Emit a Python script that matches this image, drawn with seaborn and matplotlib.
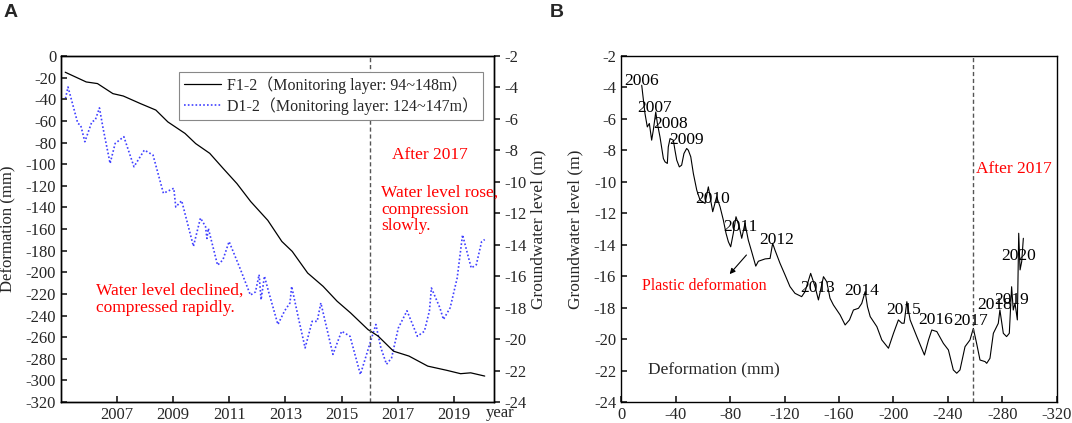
import matplotlib
matplotlib.use("Agg")
import matplotlib.pyplot as plt
import seaborn as sns
import numpy as np

# ---- Panel A data ----
year_f12 = [2005.15, 2005.9, 2006.3, 2006.85, 2007.22, 2007.83, 2008.38, 2008.81, 2009.42, 2009.8,
            2010.3, 2010.78, 2011.27, 2011.76, 2012.37, 2012.87, 2013.24, 2013.79, 2014.34, 2014.84,
            2015.32, 2015.94, 2016.3, 2016.85, 2017.4, 2018.07, 2018.75, 2019.24, 2019.6, 2020.1]
deform_f12 = [-15, -24, -25.5, -34.8, -37, -44, -50, -61, -71.6, -81,
              -90, -104, -118, -134.6, -152, -171.5, -180.7, -200.7, -213, -226.8,
              -237.6, -253, -259, -273, -277.5, -286.8, -290.7, -293.8, -293, -296]

year_d12 = [2005.16, 2005.25, 2005.6, 2005.7, 2005.85, 2006.1, 2006.22, 2006.37, 2006.5, 2006.75,
            2006.93, 2007.24, 2007.6, 2007.97, 2008.28, 2008.65, 2009.02, 2009.09, 2009.3, 2009.72,
            2009.97, 2010.15, 2010.2, 2010.25, 2010.58, 2010.77, 2010.99, 2011.38, 2011.75, 2011.93,
            2012.06, 2012.13, 2012.25, 2012.4, 2012.73, 2012.97, 2013.16, 2013.22, 2013.46, 2013.7,
            2013.95, 2014.13, 2014.26, 2014.44, 2014.69, 2015.0, 2015.3, 2015.67, 2015.85, 2015.98,
            2016.22, 2016.4, 2016.6, 2016.78, 2017.02, 2017.33, 2017.7, 2017.95, 2018.13, 2018.2,
            2018.5, 2018.63, 2018.87, 2019.12, 2019.31, 2019.62, 2019.8, 2019.99, 2020.1]
gw_d12 = [-4.7, -3.97, -6.29, -6.39, -7.45, -6.18, -6.08, -5.3, -6.6, -8.83,
          -7.56, -7.13, -9.04, -7.98, -8.3, -10.73, -10.41, -11.6, -11.2, -14.1,
          -12.3, -12.84, -13.6, -12.96, -15.3, -14.96, -13.8, -15.5, -17.2, -17.0,
          -15.9, -17.5, -16.0, -17.0, -19.07, -18.2, -17.7, -16.65, -18.65, -20.56,
          -18.87, -18.87, -17.7, -19.07, -20.97, -19.5, -19.82, -22.25, -21.2, -20.45,
          -19.07, -20.56, -21.6, -21.2, -19.3, -18.2, -19.82, -19.5, -18.2, -16.75,
          -18.0, -18.75, -18.0, -16.1, -13.37, -15.48, -15.27, -13.8, -13.67]

# ---- Panel B data: groundwater level vs deformation ----
b_deform = [-15.2, -15.9, -17.6, -19.3, -20.8, -22.5, -23.7, -25.5, -26.7, -28.6, -31.1, -32.3, -34.0,
            -34.7, -36.0, -38.4, -39.6, -40.9, -42.8, -44.5, -46.2, -48.2, -49.4, -51.2, -53.1, -55.6,
            -58.0, -61.7, -64.1, -65.8, -67.3, -70.2, -72.7, -75.1, -77.1, -78.8, -80.5, -82.4, -84.4,
            -86.8, -88.6, -91.0, -93.4, -95.9, -98.9, -100.8, -105.8, -109.4, -111.3, -113.0, -116.7,
            -120.4, -124.0, -127.7, -132.6, -135.1, -139.2, -142.4, -144.9, -148.6, -151.0, -153.4,
            -155.9, -160.8, -164.5, -167.7, -170.6, -174.3, -176.7, -179.2, -180.9, -182.9, -187.8,
            -191.4, -196.3, -200.0, -203.6, -206.1, -207.8, -209.8, -212.2, -217.1, -222.7, -225.7,
            -228.1, -231.8, -236.6, -240.3, -243.9, -246.4, -248.8, -252.5, -256.1, -258.6, -261.0,
            -263.5, -267.2, -268.4, -270.8, -273.3, -276.9, -278.1, -280.6, -283.0, -285.0, -286.7,
            -287.9, -289.2, -290.9, -291.9, -292.9, -294.1, -295.3]
b_gw = [-3.86, -4.39, -5.66, -6.51, -6.29, -7.35, -6.72, -5.56, -6.29, -7.14, -8.52, -8.73, -8.83,
        -7.78, -7.25, -7.35, -7.99, -8.62, -9.05, -8.94, -8.2, -7.88, -7.99, -8.41, -9.47, -10.53,
        -11.16, -11.37, -10.32, -11.16, -11.9, -10.95, -11.59, -12.43, -13.28, -13.81, -14.13, -13.28, -12.22,
        -12.86, -13.59, -12.64, -13.70, -14.44, -15.36, -15.05, -14.9, -14.87, -13.91, -14.34, -15.18,
        -15.92, -16.66, -17.09, -17.3, -16.98, -15.82, -16.66, -17.51, -16.03, -16.35, -17.40,
        -17.83, -18.46, -19.10, -18.78, -18.15, -18.04, -17.73, -16.98, -17.94, -18.57, -19.21,
        -20.05, -20.58, -19.63, -18.78, -18.99, -18.99, -17.62, -18.78, -19.84, -21.01, -20.05,
        -19.42, -19.52, -20.27, -20.69, -21.96, -22.17, -21.96, -20.48, -20.06, -19.32, -20.27,
        -21.33, -21.43, -21.54, -21.22, -19.63, -19.0, -18.15, -19.63, -19.84, -19.63, -16.67,
        -18.15, -17.72, -18.78, -13.27, -15.60, -15.07, -13.59]

# year labels along the curve in panel B (deformation, groundwater)
b_years = ["2006", "2007", "2008", "2009", "2010", "2011", "2012", "2013",
           "2014", "2015", "2016", "2017", "2018", "2019", "2020"]
b_year_x = [-14.9, -24.4, -36.1, -47.8, -67.2, -87.9, -114.5, -144.4,
            -176.8, -207.2, -231.1, -256.5, -273.9, -286.4, -292.1]
b_year_y = [-3.59, -5.29, -6.35, -7.37, -11.12, -12.88, -13.73, -16.74,
            -16.96, -18.16, -18.76, -18.86, -17.85, -17.53, -14.73]

sns.set_theme(style="ticks")
serif = ["Liberation Serif", "Noto Sans CJK SC"]
plt.rcParams["font.family"] = serif
plt.rcParams["axes.unicode_minus"] = False
plt.rcParams["xtick.direction"] = "in"
plt.rcParams["ytick.direction"] = "in"
plt.rcParams["axes.edgecolor"] = "black"
plt.rcParams["axes.linewidth"] = 1.0

tick_fs = 12
red_fs = 12.5

fig = plt.figure(figsize=(10.72, 4.23), dpi=100)
axA = fig.add_axes([0.0569, 0.0496, 0.4039, 0.818])
axB = fig.add_axes([0.5793, 0.0496, 0.4067, 0.818])

# ---------------- Panel A ----------------
sns.lineplot(x=year_f12, y=deform_f12, ax=axA, color="black", linewidth=0.9,
             label="F1-2\uff08Monitoring layer: 94~148m\uff09", legend=False)
axA2 = axA.twinx()
sns.lineplot(x=year_d12, y=gw_d12, ax=axA2, color="#4040ff", linewidth=1.2,
             linestyle=(0, (1, 1.3)), label="D1-2\uff08Monitoring layer: 124~147m\uff09", legend=False)

axA.set_xlim(2005, 2020.43)
axA.set_ylim(-320, 0)
axA.set_yticks(np.arange(-320, 1, 20))
axA.set_xticks(np.arange(2007, 2020, 2))
axA2.set_ylim(-24, -2)
axA2.set_yticks(np.arange(-24, -1, 2))
axA2.tick_params(axis="y", direction="out", labelsize=tick_fs, length=4)
axA.tick_params(axis="both", labelsize=tick_fs, length=4)
axA.set_xlabel("")
axA.set_ylabel("Deformation (mm)", fontsize=12)
axA.yaxis.set_label_coords(-0.102, 0.5)
axA2.set_ylabel("Groundwater level (m)", fontsize=12.5)
axA2.yaxis.set_label_coords(1.085, 0.5)

axA.axvline(2016, color="#555555", linestyle=(0, (3, 2)), linewidth=1.0)
axA.text(1.014, -0.032, "year", transform=axA.transAxes, ha="center", va="center",
         fontsize=tick_fs)

axA.text(2018.14, -92, "After 2017", color="red", fontsize=red_fs, ha="center", va="center")
axA.text(2016.42, -142, "Water level rose,\ncompression\nslowly.", color="red",
         fontsize=red_fs, ha="left", va="center", linespacing=1.05)
axA.text(2006.24, -225, "Water level declined,\ncompressed rapidly.", color="red",
         fontsize=red_fs, ha="left", va="center", linespacing=1.05)

handles = axA.get_lines()[:1] + axA2.get_lines()[:1]
leg = axA.legend(handles=handles, labels=[h.get_label() for h in handles],
                 loc="upper right", bbox_to_anchor=(0.975, 0.955), borderaxespad=0,
                 frameon=True, fancybox=False, framealpha=1, edgecolor="#888888",
                 handlelength=2.3, borderpad=0.3, labelspacing=0.2, handletextpad=0.4,
                 prop={"family": serif, "size": 11.5})
leg.get_frame().set_linewidth(0.8)
axA.set_zorder(axA2.get_zorder() + 1)
axA.patch.set_visible(False)

# ---------------- Panel B ----------------
sns.lineplot(x=b_deform, y=b_gw, ax=axB, sort=False, estimator=None, color="black", linewidth=0.8)
axB.set_xlim(0, -320)
axB.set_xticks(np.arange(0, -321, -40))
axB.set_ylim(-24, -2)
axB.set_yticks(np.arange(-24, -1, 2))
axB.tick_params(axis="both", labelsize=tick_fs, length=4)
axB.set_xlabel("")
axB.set_ylabel("Groundwater level (m)", fontsize=12.5)
axB.yaxis.set_label_coords(-0.087, 0.5)
axB.axvline(-258, color="#555555", linestyle=(0, (3, 2)), linewidth=1.0)

for lab, xx, yy in zip(b_years, b_year_x, b_year_y):
    axB.text(xx, yy, lab, fontsize=red_fs, ha="center", va="center", color="black")

axB.text(-288.3, -9.2, "After 2017", color="red", fontsize=red_fs, ha="center", va="center")
axB.text(-61.5, -16.6, "Plastic deformation", color="red", fontsize=11.5, ha="center", va="center")
axB.annotate("", xy=(-78.4, -16.0), xytext=(-93.4, -14.52),
             arrowprops=dict(arrowstyle="-|>", color="black", lw=0.8, mutation_scale=8))
axB.text(-68.5, -22.0, "Deformation (mm)", fontsize=12.5, ha="center", va="center")

fig.text(0.003, 0.99, "A", fontsize=14, fontweight="bold", family="Liberation Sans", va="top")
fig.text(0.513, 0.99, "B", fontsize=14, fontweight="bold", family="Liberation Sans", va="top")

fig.savefig("out.png", dpi=100)
